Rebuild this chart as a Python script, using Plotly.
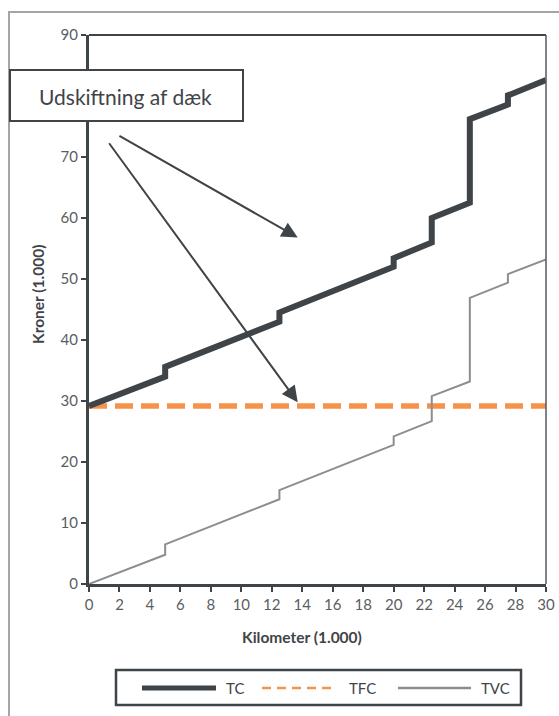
import plotly.graph_objects as go

# Kilometre readings (1.000 km) with the step points duplicated
km = [0, 5, 5, 12.5, 12.5, 20, 20, 22.5, 22.5, 25, 25, 27.5, 27.5, 30]
# Total variable cost (1.000 kr)
tvc = [0, 4.8, 6.5, 13.9, 15.4, 22.8, 24.2, 26.7, 30.8, 33.2, 46.9, 49.4, 50.8, 53.2]
# Total cost (1.000 kr)
tc = [29.2, 34.0, 35.6, 43.0, 44.5, 52.0, 53.4, 56.0, 60.0, 62.5, 76.2, 78.6, 80.1, 82.6]
# Total fixed cost (1.000 kr)
tfc_km = [0, 30]
tfc = [29.2, 29.2]

x_ticks = list(range(0, 31, 2))
# the 80 mark sits behind the label box
y_ticks = [0, 10, 20, 30, 40, 50, 60, 70, 90]

DARK = "#3f4448"
ORANGE = "#f7924a"
GREY = "#8b8e90"
FONT = "Lato"

W, H = 559, 716
L, R, T, B = 89, 546, 35, 584  # plot area in pixels


def px(xp):
    return (xp - L) / (R - L)


def py(yp):
    return (B - yp) / (B - T)


fig = go.Figure()
fig.add_trace(go.Scatter(x=tfc_km, y=tfc, mode="lines", name="TFC",
                         line=dict(color=ORANGE, width=5.5, dash="18px,8px")))
fig.add_trace(go.Scatter(x=km, y=tvc, mode="lines", name="TVC",
                         line=dict(color=GREY, width=2)))
fig.add_trace(go.Scatter(x=km, y=tc, mode="lines", name="TC",
                         line=dict(color=DARK, width=6)))

shapes = []
# outer frame
shapes.append(dict(type="rect", xref="paper", yref="paper",
                   x0=px(9), x1=px(600), y0=py(760), y1=py(12),
                   line=dict(color="#a5a5a5", width=2), layer="below"))
# top and right border of the plot area
shapes.append(dict(type="line", xref="paper", yref="paper",
                   x0=0, x1=1, y0=1, y1=1, line=dict(color=DARK, width=2)))
shapes.append(dict(type="line", xref="paper", yref="paper",
                   x0=1, x1=1, y0=0, y1=1, line=dict(color="#55595c", width=1.5)))
# label box
shapes.append(dict(type="rect", xref="paper", yref="paper",
                   x0=px(10), x1=px(243), y0=py(121), y1=py(70),
                   fillcolor="white", line=dict(color=DARK, width=2)))
# legend box and samples
shapes.append(dict(type="rect", xref="paper", yref="paper",
                   x0=px(116), x1=px(521), y0=py(705), y1=py(670),
                   fillcolor="white", line=dict(color=DARK, width=2.5)))
shapes.append(dict(type="line", xref="paper", yref="paper",
                   x0=px(142), x1=px(216), y0=py(688), y1=py(688),
                   line=dict(color=DARK, width=5)))
shapes.append(dict(type="line", xref="paper", yref="paper",
                   x0=px(262), x1=px(336), y0=py(688), y1=py(688),
                   line=dict(color=ORANGE, width=2.5, dash="9px,6px")))
shapes.append(dict(type="line", xref="paper", yref="paper",
                   x0=px(398), x1=px(471), y0=py(688), y1=py(688),
                   line=dict(color=GREY, width=2.5)))

annotations = []
annotations.append(dict(text="Udskiftning af dæk", xref="paper", yref="paper",
                        x=px(125), y=py(96), xanchor="center", yanchor="middle",
                        showarrow=False,
                        font=dict(family=FONT, size=21, color=DARK)))
for name, xp in [("TC", 224), ("TFC", 347), ("TVC", 479)]:
    annotations.append(dict(text=name, xref="paper", yref="paper",
                            x=px(xp), y=py(688), xanchor="left", yanchor="middle",
                            showarrow=False,
                            font=dict(family=FONT, size=15, color=DARK)))
annotations.append(dict(text="<b>Kroner (1.000)</b>", xref="paper", yref="paper",
                        x=px(38), y=py(295), xanchor="center", yanchor="middle",
                        textangle=-90, showarrow=False,
                        font=dict(family=FONT, size=15.5, color=DARK)))
annotations.append(dict(text="<b>Kilometer (1.000)</b>", xref="paper", yref="paper",
                        x=px(302), y=py(637), xanchor="center", yanchor="middle",
                        showarrow=False,
                        font=dict(family=FONT, size=15.5, color=DARK)))
# arrows
for (x0, y0, x1, y1) in [(1.9, 73.6, 13.7, 56.8), (1.25, 72.5, 13.7, 29.8)]:
    annotations.append(dict(x=x1, y=y1, ax=x0, ay=y0, xref="x", yref="y",
                            axref="x", ayref="y", text="", showarrow=True,
                            arrowhead=2, arrowsize=1.6, arrowwidth=2,
                            arrowcolor=DARK))

axis_common = dict(showgrid=False, zeroline=False, showline=True, linecolor=DARK,
                   linewidth=3, ticks="outside", ticklen=5, tickwidth=2,
                   automargin=False,
                   tickcolor=DARK, tickfont=dict(family=FONT, size=15, color="#5a5e62"))

fig.update_layout(
    width=W, height=H,
    margin=dict(l=L, r=W - R, t=T, b=H - B, autoexpand=False),
    paper_bgcolor="white", plot_bgcolor="white",
    showlegend=False,
    shapes=shapes, annotations=annotations,
    xaxis=dict(range=[0, 30], tickvals=x_ticks, **axis_common),
    yaxis=dict(range=[0, 90], tickvals=y_ticks, **axis_common),
)

fig.write_html("out.html")
